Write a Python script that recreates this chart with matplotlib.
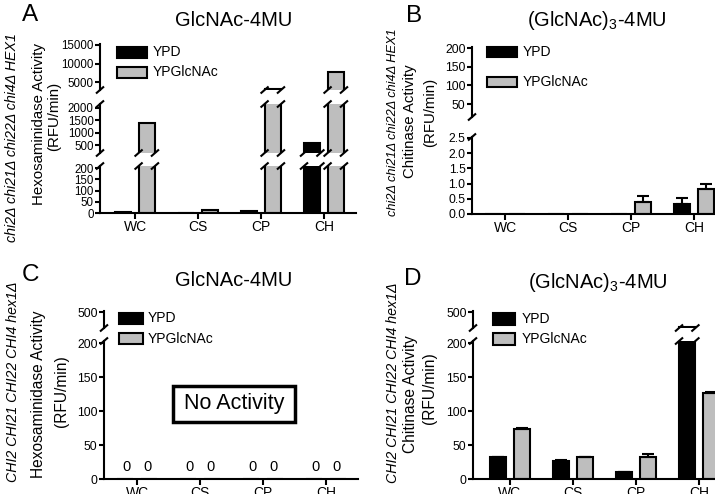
import matplotlib
matplotlib.use('Agg')
import matplotlib.pyplot as plt
from matplotlib.lines import Line2D
from matplotlib.patches import Rectangle
import numpy as np

plt.rcParams['font.family'] = ['Liberation Sans', 'DejaVu Sans']
plt.rcParams['mathtext.default'] = 'regular'

categories = ['WC', 'CS', 'CP', 'CH']
series = ['YPD', 'YPGlcNAc']
colors = ['#000000', '#bebebe']

a_ypd = [4, 0, 7, 580]
a_ypg = [1400, 15, 3100, 7700]
b_ypd = [0, 0, 0, 0.32]
b_ypd_err = [0, 0, 0, 0.2]
b_ypg = [0, 0, 0.38, 0.82]
b_ypg_err = [0, 0, 0.2, 0.15]
c_ypd = [0, 0, 0, 0]
c_ypg = [0, 0, 0, 0]
d_ypd = [32, 27, 10, 270]
d_ypd_err = [1, 0.5, 0.5, 0]
d_ypg = [74, 32, 33, 126]
d_ypg_err = [1, 0.5, 4, 1.5]

W, H = 715, 494
fig = plt.figure(figsize=(W / 100, H / 100), dpi=100)
fig.patch.set_facecolor('white')

LW = 1.5
STEP = 63.0
OFF = 0.187
BW = 0.26


def fig_line(xs, ys, lw=LW):
    fig.add_artist(Line2D([x / W for x in xs], [1 - y / H for y in ys],
                          color='black', lw=lw, transform=fig.transFigure,
                          clip_on=False, solid_capstyle='butt'))


def brk(x, y, w=4, h=3.5):
    fig_line([x - w, x + w], [y + h, y - h])


def ftext(x, y, s, **kw):
    fig.text(x / W, 1 - y / H, s, **kw)


def panel(x0, x1, tick0, segs, ypd, ypg, ypd_err=None, ypg_err=None,
          ytfs=8.8, xtfs=10, fmt=None):
    xl = -(tick0 - x0) / STEP
    xr = xl + (x1 - x0) / STEP
    x = np.arange(len(categories))
    axes = []
    for i, (ytop, ybot, ylim, ticks) in enumerate(segs):
        ax = fig.add_axes([x0 / W, 1 - ybot / H, (x1 - x0) / W, (ybot - ytop) / H])
        ax.set_xlim(xl, xr)
        ax.set_ylim(*ylim)
        ax.patch.set_visible(False)
        for s in ['top', 'right', 'bottom']:
            ax.spines[s].set_visible(False)
        ax.spines['left'].set_linewidth(LW)
        ax.set_yticks(ticks)
        if fmt:
            ax.set_yticklabels([fmt.format(t) for t in ticks])
        ax.tick_params(axis='y', length=3.8, width=LW, pad=0.8, labelsize=ytfs)
        ax.bar(x - OFF, ypd, BW, color=colors[0], edgecolor='black', linewidth=LW)
        ax.bar(x + OFF, ypg, BW, color=colors[1], edgecolor='black', linewidth=LW)
        for vals, errs, o in ((ypd, ypd_err, -OFF), (ypg, ypg_err, OFF)):
            if errs is None:
                continue
            for xi, v, e in zip(x, vals, errs):
                if e > 0:
                    ax.errorbar([xi + o], [v], yerr=[[0], [e]], fmt='none',
                                ecolor='black', elinewidth=LW, capsize=4,
                                capthick=LW, zorder=1)
        if i == len(segs) - 1:
            ax.spines['bottom'].set_visible(True)
            ax.spines['bottom'].set_linewidth(LW)
            ax.set_xticks(x)
            ax.set_xticklabels(categories)
            ax.tick_params(axis='x', length=4, width=LW, pad=1, labelsize=xtfs)
        else:
            ax.set_xticks([])
        axes.append(ax)
    # break marks
    for up, lo in zip(segs[:-1], segs[1:]):
        yb_up = up[1]
        yt_lo = lo[0]
        brk(x0, yb_up)
        brk(x0, yt_lo)
        for vals, o in ((ypd, -OFF), (ypg, OFF)):
            for xi, v in zip(x, vals):
                if v > lo[2][1]:
                    for edge in (-BW / 2, BW / 2):
                        px = x0 + (xi + o + edge - xl) * STEP
                        brk(px, yb_up)
                        brk(px, yt_lo)
    return axes


# Panel A
panel(100, 356, 135,
      [(44, 90, (2840, 15270), [5000, 10000, 15000]),
       (104, 153, (176, 2162), [500, 1000, 1500, 2000]),
       (166, 213, (0, 209), [0, 50, 100, 150, 200])],
      a_ypd, a_ypg, ytfs=8.3)

# Panel B
axB = panel(472, 725, 505,
            [(47, 117, (15.2, 202.7), [50, 100, 150, 200]),
             (137, 214, (0, 2.53), [0, 0.5, 1.0, 1.5, 2.0, 2.5])],
            b_ypd, b_ypg, b_ypd_err, b_ypg_err)
axB[1].set_yticklabels([f'{t:.1f}' for t in [0, 0.5, 1.0, 1.5, 2.0, 2.5]])

# Panel C
axC = panel(104, 358, 137,
            [(311, 328, (250, 520), [500]),
             (341, 479, (0, 203), [0, 50, 100, 150, 200])],
            c_ypd, c_ypg)
xc = np.arange(len(categories))
for vals, o in ((c_ypd, -OFF), (c_ypg, OFF)):
    for xi, v in zip(xc, vals):
        axC[-1].annotate(f'{v:g}', (xi + o * 0.85, v), xytext=(0, 6), textcoords='offset points',
                         ha='center', va='baseline', fontsize=10.5)

# Panel D
panel(473, 740, 510,
      [(311, 328, (250, 520), [500]),
       (341, 479, (0, 203), [0, 50, 100, 150, 200])],
      d_ypd, d_ypg, d_ypd_err, d_ypg_err)


# Legends
def legend(xb, wb, y1, y2, hb, xt, fs):
    for (yc, c, lab) in ((y1, colors[0], series[0]), (y2, colors[1], series[1])):
        fig.add_artist(Rectangle((xb / W, 1 - (yc + hb / 2) / H), wb / W, hb / H,
                                 facecolor=c, edgecolor='black', lw=LW,
                                 transform=fig.transFigure))
        ftext(xt, yc, lab, ha='left', va='center', fontsize=fs)


legend(117, 30, 52.5, 72.5, 11, 153, 10)
legend(487, 30, 52, 82, 10, 523, 10)
legend(119, 24, 318.5, 338.5, 11, 148, 10)
legend(493, 22, 319, 339, 12, 522, 10)

# Titles
ftext(234, 20, 'GlcNAc-4MU', ha='center', va='center', fontsize=14.5)
ftext(597, 20, '(GlcNAc)$_3$-4MU', ha='center', va='center', fontsize=14.5)
ftext(234, 280, 'GlcNAc-4MU', ha='center', va='center', fontsize=14.5)
ftext(598, 282, '(GlcNAc)$_3$-4MU', ha='center', va='center', fontsize=14.5)

# Panel letters
ftext(30, 15, 'A', ha='center', va='center', fontsize=17.5)
ftext(414, 16, 'B', ha='center', va='center', fontsize=17.5)
ftext(31, 275, 'C', ha='center', va='center', fontsize=17.5)
ftext(413, 279, 'D', ha='center', va='center', fontsize=17.5)

# Y labels
gen_del = 'chi2Δ chi21Δ chi22Δ chi4Δ HEX1'
gen_wt = 'CHI2 CHI21 CHI22 CHI4 hex1Δ'
ftext(12, 138, gen_del, rotation=90, ha='center', va='center', fontsize=10.3, style='italic')
ftext(39, 124, 'Hexosaminidase Activity', rotation=90, ha='center', va='center', fontsize=10.8)
ftext(54, 116, '(RFU/min)', rotation=90, ha='center', va='center', fontsize=10.8)

ftext(393, 122, gen_del, rotation=90, ha='center', va='center', fontsize=9.2, style='italic')
ftext(410, 121, 'Chitinase Activity', rotation=90, ha='center', va='center', fontsize=10.8)
ftext(430, 112, '(RFU/min)', rotation=90, ha='center', va='center', fontsize=10.8)

ftext(13, 382, gen_wt, rotation=90, ha='center', va='center', fontsize=10.2, style='italic')
ftext(39, 394, 'Hexosaminidase Activity', rotation=90, ha='center', va='center', fontsize=11.2)
ftext(61, 391, '(RFU/min)', rotation=90, ha='center', va='center', fontsize=11.2)

ftext(393, 383, gen_wt, rotation=90, ha='center', va='center', fontsize=10.2, style='italic')
ftext(411, 394, 'Chitinase Activity', rotation=90, ha='center', va='center', fontsize=11.2)
ftext(430, 388, '(RFU/min)', rotation=90, ha='center', va='center', fontsize=11.2)

# No Activity box
fig.add_artist(Rectangle((173 / W, 1 - 422 / H), (295 - 173) / W, (422 - 386) / H,
                         facecolor='white', edgecolor='black', lw=2.5,
                         transform=fig.transFigure))
ftext(234, 404, 'No Activity', ha='center', va='center', fontsize=15.5)

fig.savefig('out.png', dpi=100)
